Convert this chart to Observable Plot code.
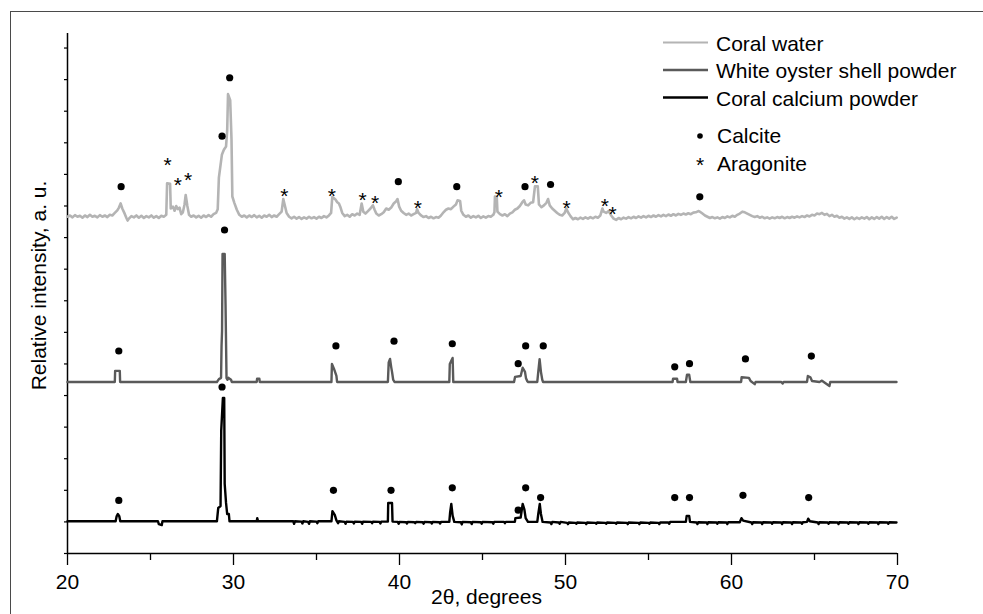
<!DOCTYPE html>
<html>
<head>
<meta charset="utf-8">
<script src="https://cdn.jsdelivr.net/npm/d3@7"></script>
<script src="https://cdn.jsdelivr.net/npm/@observablehq/plot@0.6"></script>
<style>
  html, body { margin: 0; padding: 0; background: #fff; overflow: hidden; }
  #wrap { position: relative; width: 983px; height: 614px; font-family: "Liberation Sans", Arial, sans-serif; }
  #frame { position: absolute; left: 10px; top: 11px; width: 990px; height: 620px; border-left: 1.5px solid #4a4a4a; border-top: 1.5px solid #4a4a4a; }
  #chart { position: absolute; left: 0; top: 0; }
  #legend { position: absolute; left: 0; top: 0; }
</style>
</head>
<body>
<div id="wrap">
  <div id="frame"></div>
  <div id="chart"></div>
  <svg id="legend" width="983" height="614"></svg>
</div>
<script>
// ---- data: [2θ (degrees), relative intensity (a.u., stacked)] ----
const coralWater = [
[20.0,10.66],[20.15,10.70],[20.3,10.64],[20.45,10.71],[20.6,10.66],[20.75,10.69],[20.9,10.63],[21.05,10.70],[21.2,10.65],[21.35,10.72],[21.5,10.66],[21.65,10.69],[21.8,10.64],[21.95,10.71],[22.1,10.66],[22.25,10.70],[22.4,10.65],[22.55,10.72],[22.7,10.70],[22.85,10.78],[23.0,10.86],[23.1,10.95],[23.2,11.08],[23.3,10.92],[23.45,10.75],[23.55,10.62],[23.62,10.54],[23.7,10.60],[23.85,10.68],[24.0,10.64],[24.15,10.70],[24.3,10.63],[24.45,10.69],[24.6,10.62],[24.75,10.68],[24.9,10.64],[25.05,10.70],[25.2,10.63],[25.35,10.68],[25.5,10.62],[25.65,10.69],[25.8,10.66],[25.95,10.72],[26.0,11.72],[26.18,11.70],[26.22,10.92],[26.35,10.98],[26.45,10.85],[26.55,11.00],[26.65,10.90],[26.75,10.95],[26.85,10.74],[26.95,10.80],[27.05,11.05],[27.12,11.35],[27.22,11.00],[27.32,10.72],[27.45,10.66],[27.6,10.70],[27.75,10.64],[27.9,10.69],[28.05,10.63],[28.2,10.70],[28.35,10.65],[28.5,10.71],[28.65,10.66],[28.8,10.74],[28.95,10.78],[29.05,10.90],[29.12,11.90],[29.3,12.62],[29.42,12.78],[29.55,12.88],[29.62,13.40],[29.67,14.54],[29.8,14.35],[29.88,13.10],[29.93,11.30],[30.05,11.10],[30.2,10.88],[30.35,10.72],[30.5,10.66],[30.65,10.70],
[30.8,10.64],[30.95,10.70],[31.1,10.65],[31.25,10.71],[31.4,10.64],[31.55,10.69],[31.7,10.63],[31.85,10.70],[32.0,10.66],[32.15,10.72],[32.3,10.65],[32.45,10.70],[32.6,10.66],[32.75,10.74],[32.9,10.82],[33.0,11.22],[33.1,11.00],[33.2,10.78],[33.35,10.66],[33.5,10.61],[33.65,10.66],[33.8,10.60],[33.95,10.65],[34.1,10.59],[34.25,10.64],[34.4,10.60],[34.55,10.66],[34.7,10.61],[34.85,10.65],[35.0,10.60],[35.15,10.66],[35.3,10.62],[35.45,10.68],[35.6,10.64],[35.75,10.70],[35.88,10.78],[35.95,11.28],[36.05,11.25],[36.15,11.20],[36.25,11.12],[36.35,11.08],[36.45,10.95],[36.55,10.78],[36.7,10.68],[36.85,10.72],[37.0,10.66],[37.15,10.74],[37.3,10.70],[37.45,10.76],[37.6,10.72],[37.72,11.08],[37.82,10.82],[37.95,10.76],[38.1,10.84],[38.25,10.92],[38.4,11.02],[38.5,10.88],[38.6,10.76],[38.75,10.70],[38.9,10.74],[39.05,10.80],[39.2,10.92],[39.35,10.88],[39.5,10.95],[39.65,11.08],[39.8,11.15],[39.88,11.22],[39.98,10.98],[40.1,10.85],[40.25,10.78],[40.4,10.72],[40.55,10.76],[40.7,10.70],[40.85,10.74],[41.0,10.78],[41.06,10.90],[41.15,10.78],[41.3,10.70],[41.45,10.65],[41.6,10.68],[41.75,10.62],[41.9,10.66],[42.05,10.61],[42.2,10.65],[42.35,10.63],[42.5,10.70],[42.65,10.80],[42.8,10.88],[42.95,10.92],[43.1,10.90],[43.25,10.98],[43.4,11.05],[43.5,11.18],[43.65,11.16],[43.72,10.85],[43.85,10.72],[44.0,10.66],[44.15,10.70],[44.3,10.63],[44.45,10.68],[44.6,10.64],[44.75,10.69],[44.9,10.62],[45.05,10.67],[45.2,10.63],[45.35,10.68],[45.5,10.66],[45.65,10.72],[45.72,10.80],[45.75,11.30],[45.86,11.28],[45.9,10.82],[46.05,10.74],[46.2,10.70],[46.35,10.74],[46.5,10.68],[46.65,10.76],[46.8,10.80],[46.95,10.88],[47.1,10.92],[47.25,11.00],[47.4,11.12],[47.5,11.18],[47.6,11.05],[47.75,11.02],[47.9,11.10],[48.05,11.12],[48.16,11.62],[48.33,11.62],[48.4,11.05],[48.55,10.96],[48.7,11.02],[48.85,11.10],[48.95,11.22],[49.05,11.02],[49.2,10.92],[49.35,10.85],[49.5,10.78],[49.65,10.72],[49.8,10.70],[49.95,10.78],[50.05,10.92],[50.15,10.80],[50.3,10.68],[50.45,10.58],[50.6,10.62],[50.75,10.58],[50.9,10.63],[51.05,10.59],[51.2,10.64],[51.35,10.60],[51.5,10.65],[51.65,10.61],[51.8,10.66],[51.95,10.63],[52.1,10.70],[52.22,10.92],[52.3,10.82],[52.45,10.78],[52.6,10.84],[52.75,10.70],[52.9,10.60],[53.05,10.56],[53.2,10.62],[53.35,10.58],[53.5,10.63],[53.65,10.60],[53.8,10.65],[53.95,10.61],[54.1,10.66],[54.25,10.62],[54.4,10.67],[54.55,10.63],[54.7,10.68],[54.85,10.64],[55.0,10.69],[55.15,10.65],[55.3,10.70],[55.45,10.66],[55.6,10.71],[55.75,10.67],[55.9,10.72],[56.05,10.68],[56.2,10.73],[56.35,10.69],[56.5,10.74],[56.65,10.70],[56.8,10.75],[56.95,10.72],[57.1,10.76],[57.25,10.73],[57.4,10.77],[57.55,10.74],[57.7,10.79],[57.85,10.80],[58.0,10.84],[58.1,10.82],[58.25,10.76],[58.4,10.70],[58.55,10.66],[58.7,10.62],[58.85,10.65],[59.0,10.61],[59.15,10.64],[59.3,10.60],[59.45,10.65],[59.6,10.62],[59.75,10.67],[59.9,10.64],[60.05,10.69],[60.2,10.66],[60.35,10.72],[60.5,10.76],[60.65,10.82],[60.8,10.80],[60.95,10.76],[61.1,10.72],[61.25,10.68],[61.4,10.65],[61.55,10.68],[61.7,10.63],[61.85,10.66],[62.0,10.61],[62.15,10.64],[62.3,10.60],[62.45,10.64],[62.6,10.61],[62.75,10.65],[62.9,10.62],[63.05,10.66],[63.2,10.61],[63.35,10.65],[63.5,10.62],[63.65,10.66],[63.8,10.63],[63.95,10.67],[64.1,10.64],[64.25,10.68],[64.4,10.65],[64.55,10.70],[64.7,10.67],[64.85,10.72],[65.0,10.70],[65.15,10.76],[65.3,10.74],[65.45,10.78],[65.6,10.72],[65.75,10.75],[65.9,10.68],[66.05,10.72],[66.2,10.66],[66.35,10.69],[66.5,10.63],[66.65,10.66],[66.8,10.60],[66.95,10.64],[67.1,10.59],[67.25,10.64],[67.4,10.58],[67.55,10.63],[67.7,10.59],[67.85,10.64],[68.0,10.60],[68.15,10.65],[68.3,10.58],[68.45,10.64],[68.6,10.59],[68.75,10.65],[68.9,10.60],[69.05,10.66],[69.2,10.59],[69.35,10.65],[69.5,10.60],[69.65,10.66],[69.8,10.59],[69.95,10.63]
];

const oysterShell = [
[20.0,5.43],[22.85,5.43],[22.87,5.78],[23.15,5.78],[23.17,5.43],[29.0,5.43],[29.12,5.52],[29.25,5.56],[29.28,6.57],[29.31,7.04],[29.34,9.48],[29.47,9.48],[29.52,7.90],[29.58,5.55],[29.64,5.50],[29.7,5.56],[29.85,5.50],[29.9,5.43],[31.4,5.43],[31.42,5.53],[31.56,5.53],[31.58,5.43],[35.9,5.43],[35.93,6.00],[36.05,5.85],[36.2,5.62],[36.24,5.43],[39.3,5.43],[39.35,6.05],[39.43,6.16],[39.5,5.90],[39.55,5.75],[39.62,5.50],[39.7,5.43],[43.0,5.43],[43.03,6.00],[43.12,6.10],[43.2,6.19],[43.24,5.43],[46.9,5.43],[46.96,5.59],[47.3,5.62],[47.42,5.88],[47.56,5.75],[47.62,5.55],[47.7,5.45],[47.75,5.43],[48.3,5.43],[48.36,5.75],[48.44,6.15],[48.52,5.75],[48.6,5.50],[48.65,5.43],[56.45,5.43],[56.48,5.53],[56.72,5.53],[56.75,5.43],[57.25,5.43],[57.32,5.66],[57.45,5.66],[57.52,5.43],[60.58,5.43],[60.61,5.58],[61.05,5.56],[61.15,5.46],[61.4,5.36],[61.45,5.43],[63.0,5.43],[63.08,5.38],[63.14,5.43],[64.55,5.43],[64.6,5.62],[64.75,5.58],[64.85,5.46],[65.3,5.43],[65.45,5.47],[65.9,5.30],[65.95,5.43],[69.94,5.43]
];

const coralCalcium = [
[20.0,1.02],[22.9,1.02],[22.96,1.18],[23.03,1.25],[23.12,1.18],[23.18,1.02],[25.45,1.02],[25.5,0.93],[25.68,0.90],[25.72,1.02],[29.0,1.02],[29.08,1.44],[29.22,1.50],[29.26,3.88],[29.36,4.92],[29.44,4.92],[29.47,2.20],[29.55,1.60],[29.62,1.25],[29.72,1.25],[29.76,1.02],[31.4,1.02],[31.43,1.12],[31.48,1.02],
[33.6,1.02],[33.65,0.94],[33.7,1.02],[34.1,1.01],[34.15,0.95],[34.2,1.02],[34.5,1.00],[34.55,0.94],[34.6,1.02],[35.0,1.01],[35.05,0.96],[35.1,1.02],[35.6,1.02],
[35.9,1.02],[35.96,1.34],[36.1,1.22],[36.2,1.05],[36.3,0.96],[36.35,1.02],[36.7,1.00],[36.75,0.94],[36.8,1.01],[37.2,1.00],[37.25,0.95],[37.3,1.01],[37.7,1.00],[37.75,0.94],[37.8,1.01],[38.3,1.00],[38.35,0.96],[38.4,1.01],[38.8,1.00],[38.85,0.95],[38.9,1.01],
[39.3,1.01],[39.32,1.60],[39.55,1.60],[39.58,1.01],[39.9,1.00],[39.95,0.94],[40.0,1.00],[40.4,0.99],[40.45,0.95],[40.5,1.00],[40.9,0.99],[40.95,0.96],[41.0,1.00],[41.4,0.99],[41.45,0.94],[41.5,1.00],[41.9,0.99],[41.95,0.95],[42.0,1.00],[42.4,0.99],[42.45,0.95],[42.5,1.00],
[43.0,1.00],[43.05,1.30],[43.12,1.57],[43.2,1.20],[43.3,1.00],[43.7,0.99],[43.75,0.92],[43.8,1.00],[44.3,0.99],[44.35,0.93],[44.4,1.00],[44.9,0.99],[44.95,0.94],[45.0,1.00],[45.6,0.99],[45.65,0.94],[45.7,1.00],[46.3,1.00],[46.35,0.96],[46.4,1.00],
[46.95,1.00],[46.98,1.12],[47.3,1.14],[47.42,1.57],[47.52,1.40],[47.6,1.12],[47.74,1.00],[48.3,1.00],[48.36,1.25],[48.45,1.57],[48.52,1.25],[48.62,1.00],
[49.1,0.98],[49.15,0.93],[49.2,1.00],[49.6,0.98],[49.65,0.94],[49.7,1.00],[50.1,0.97],[50.15,0.93],[50.2,0.98],[50.6,0.97],[50.65,0.94],[50.7,0.98],[51.2,0.97],[51.25,0.93],[51.3,0.98],[51.8,0.97],[51.85,0.94],[51.9,0.98],[52.4,0.97],[52.45,0.94],[52.5,0.98],[53.0,0.97],[53.05,0.94],[53.1,0.98],[53.7,0.97],[53.75,0.93],[53.8,0.98],[54.4,0.97],[54.45,0.93],[54.5,0.98],[55.0,0.97],[55.05,0.94],[55.1,0.98],[55.6,0.97],[55.65,0.93],[55.7,0.98],[56.2,0.98],[56.25,0.94],[56.3,1.00],
[57.25,1.00],[57.3,1.19],[57.45,1.19],[57.5,1.00],[57.9,0.98],[57.95,0.93],[58.0,0.99],[58.5,0.98],[58.55,0.93],[58.6,0.99],[59.1,0.98],[59.15,0.94],[59.2,0.99],[59.7,0.98],[59.75,0.93],[59.8,0.99],
[60.5,0.99],[60.6,1.12],[60.7,1.04],[61.2,0.98],[61.25,0.93],[61.3,0.99],[61.8,0.98],[61.85,0.93],[61.9,0.99],[62.4,0.98],[62.45,0.94],[62.5,0.99],[63.0,0.98],[63.05,0.93],[63.1,0.99],[63.6,0.98],[63.65,0.93],[63.7,0.99],[64.2,0.98],[64.25,0.94],[64.3,0.99],
[64.55,1.00],[64.62,1.10],[64.72,1.02],[65.2,0.98],[65.25,0.93],[65.3,0.99],[65.8,0.98],[65.85,0.94],[65.9,0.99],[66.4,0.98],[66.45,0.93],[66.5,0.99],[67.0,0.98],[67.05,0.94],[67.1,0.99],[67.6,0.98],[67.65,0.93],[67.7,0.99],[68.2,0.98],[68.25,0.94],[68.3,0.99],[68.8,0.98],[68.85,0.93],[68.9,0.99],[69.4,0.98],[69.45,0.94],[69.5,0.99],[69.94,0.98]
];

// phase markers [2θ, y]
const calcitePoints = [
[23.23,11.61],[29.31,13.21],[29.77,15.06],[39.93,11.77],[43.45,11.61],[47.56,11.61],[49.10,11.68],[58.09,11.29],
[23.09,6.41],[29.46,10.24],[36.17,6.57],[39.67,6.72],[43.18,6.64],[47.15,6.01],[47.60,6.57],[48.66,6.57],[56.58,5.91],[57.47,6.01],[60.84,6.16],[64.81,6.25],
[23.09,1.68],[29.31,5.27],[36.02,2.00],[39.49,2.00],[43.18,2.08],[47.15,1.37],[47.60,2.08],[48.50,1.77],[56.58,1.77],[57.47,1.77],[60.69,1.84],[64.65,1.77]
];
const aragonitePoints = [
[26.03,12.45],[26.64,11.81],[27.26,11.97],[33.06,11.47],[35.93,11.47],[37.77,11.34],[38.53,11.24],[41.10,11.10],[45.99,11.42],[48.16,11.89],[50.07,11.10],[52.37,11.16],[52.83,10.91]
];

const seriesNames = ["Coral water", "White oyster shell powder", "Coral calcium powder"];
const seriesColors = ["#b4b4b4", "#5a5a5a", "#000000"];
const markerNames = ["Calcite", "Aragonite"];
const xMajorTicks = [20, 30, 40, 50, 60, 70];
const xMinorTicks = [25, 35, 45, 55, 65];
const yTicks = d3.range(0, 17);
const xTitle = "2θ, degrees";
const yTitle = "Relative intensity, a. u.";

const yMax = 16.46;
const FONT = 21;

const chart = Plot.plot({
  width: 983,
  height: 614,
  marginLeft: 67,
  marginRight: 86,
  marginTop: 33,
  marginBottom: 61,
  x: { domain: [20, 70] },
  y: { domain: [0, yMax] },
  style: { fontFamily: '"Liberation Sans", Arial, sans-serif', background: "transparent", color: "#000" },
  marks: [
    Plot.axisY({ ticks: yTicks, tickSize: 3, tickFormat: () => "", label: null, strokeWidth: 1.2 }),
    Plot.axisX({ ticks: xMajorTicks, tickSize: 12, tickPadding: 9, fontSize: FONT, label: null, strokeWidth: 1.3 }),
    Plot.axisX({ ticks: xMinorTicks, tickSize: 7, tickFormat: () => "", label: null, strokeWidth: 1.3 }),
    Plot.ruleX([20], { stroke: "#000", strokeWidth: 1.5 }),
    Plot.ruleY([0], { stroke: "#000", strokeWidth: 1.5 }),
    Plot.line(coralWater, { x: d => d[0], y: d => d[1], stroke: seriesColors[0], strokeWidth: 2.6 }),
    Plot.line(oysterShell, { x: d => d[0], y: d => d[1], stroke: seriesColors[1], strokeWidth: 2.4 }),
    Plot.line(coralCalcium, { x: d => d[0], y: d => d[1], stroke: seriesColors[2], strokeWidth: 2.4 }),
    Plot.dot(calcitePoints, { x: d => d[0], y: d => d[1], r: 3.6, fill: "#000", stroke: null }),
    Plot.text(aragonitePoints, { x: d => d[0], y: d => d[1], text: () => "*", fontSize: FONT, dy: 5, fill: "#000" }),
    Plot.text([xTitle], { text: d => d, frameAnchor: "bottom", textAnchor: "middle", dx: 4, dy: 50, fontSize: FONT, fill: "#000" }),
    Plot.text([yTitle], { text: d => d, frameAnchor: "left", textAnchor: "middle", rotate: -90, dx: -28, dy: -8, fontSize: FONT, fill: "#000" })
  ]
});
document.getElementById("chart").appendChild(chart);

// legend (inside the plot area, top right)
const lg = d3.select("#legend").style("font-family", '"Liberation Sans", Arial, sans-serif');
const rowY = [42.5, 70, 97.5];
seriesNames.forEach((name, i) => {
  lg.append("line").attr("x1", 663).attr("x2", 708).attr("y1", rowY[i]).attr("y2", rowY[i])
    .attr("stroke", seriesColors[i]).attr("stroke-width", i === 0 ? 2.2 : 2.6);
  lg.append("text").attr("x", 716).attr("y", rowY[i] + 0.5).attr("dominant-baseline", "central")
    .attr("font-size", FONT).attr("fill", "#000").text(name);
});
lg.append("circle").attr("cx", 700).attr("cy", 136).attr("r", 2.8).attr("fill", "#000");
lg.append("text").attr("x", 717).attr("y", 135).attr("dominant-baseline", "central")
  .attr("font-size", FONT).attr("fill", "#000").text(markerNames[0]);
lg.append("text").attr("x", 700).attr("y", 164.5).attr("text-anchor", "middle").attr("dominant-baseline", "central")
  .attr("font-size", FONT).attr("fill", "#000").text("*");
lg.append("text").attr("x", 717).attr("y", 163).attr("dominant-baseline", "central")
  .attr("font-size", FONT).attr("fill", "#000").text(markerNames[1]);
</script>
</body>
</html>
